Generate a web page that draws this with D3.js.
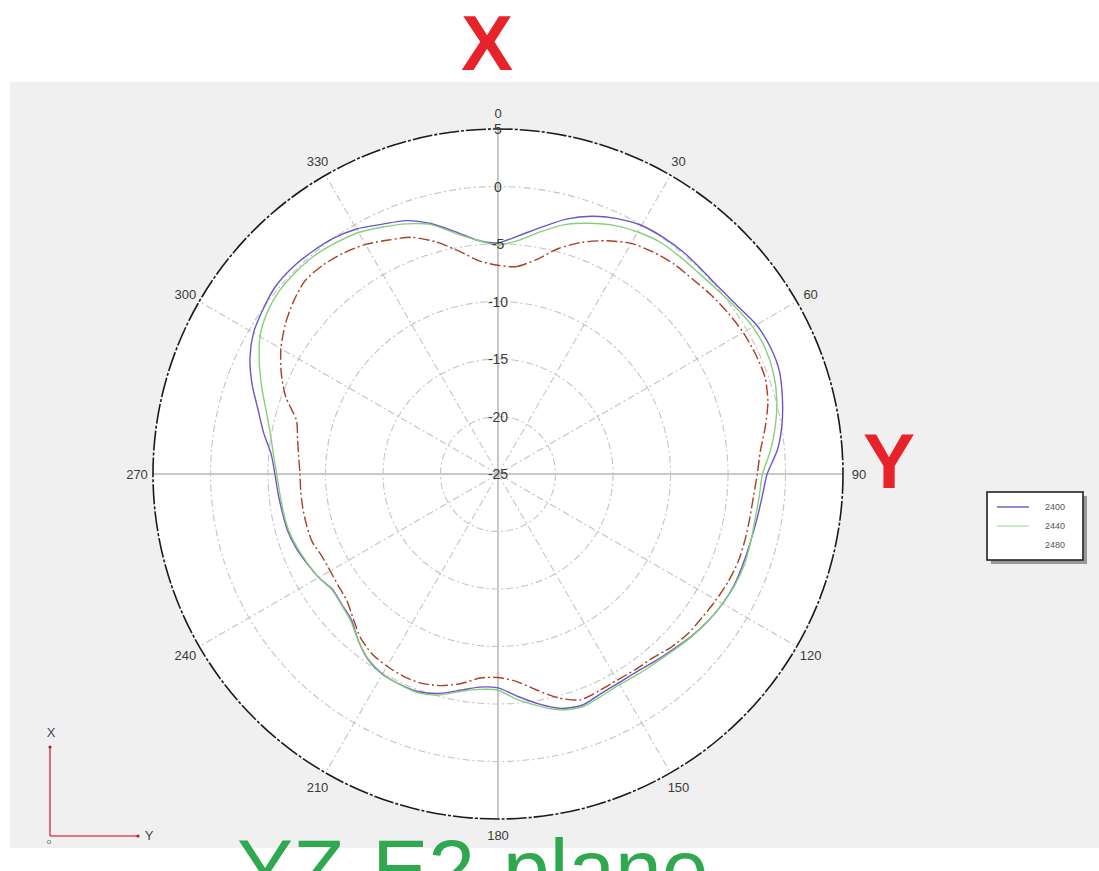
<!DOCTYPE html>
<html>
<head>
<meta charset="utf-8">
<script src="https://cdn.jsdelivr.net/npm/d3@7"></script>
<style>
html,body{margin:0;padding:0;background:#fff;}
svg{display:block;}
</style>
</head>
<body>
<svg id="chart" width="1099" height="871"></svg>
<script>
// ---------- DATA ----------
const angles = [0,5,10,15,20,25,30,35,40,45,50,55,60,65,70,75,80,85,90,95,100,105,110,115,120,125,130,135,140,145,150,155,160,165,170,175,180,185,190,195,200,205,210,215,220,225,230,235,240,245,250,255,260,265,270,275,280,285,290,295,300,305,310,315,320,325,330,335,340,345,350,355];
const series2400 = [-4.9,-4.2,-3.2,-2.05,-1.15,-0.5,-0.05,0.1,0.15,0.09,
  0.15,0.45,0.95,1.13,1.05,0.6,0.08,-0.6,-1.6,-1.95,
  -2.15,-2.27,-2.3,-2.3,-2.45,-2.7,-3.05,-3.45,-3.75,-4.0,
  -4.03,-3.9,-3.6,-3.9,-4.7,-5.6,-6.4,-6.4,-5.9,-5.25,
  -4.85,-4.82,-4.9,-5.3,-6.1,-7.0,-7.3,-7.45,-7.0,-6.65,
  -6.3,-6.05,-5.95,-5.8,-5.6,-5.2,-4.3,-3.4,-2.25,-1.2,
  -0.45,-0.05,0.3,0.34,0.2,0.0,-0.4,-1.05,-1.55,-2.45,
  -3.6,-4.6];
const series2440 = [-5.1,-4.6,-3.6,-2.55,-1.8,-1.15,-0.7,-0.4,-0.35,-0.3,
  -0.1,0.25,0.58,0.68,0.5,0.1,-0.5,-1.2,-2.0,-2.2,
  -2.3,-2.25,-2.17,-2.25,-2.45,-2.7,-3.0,-3.35,-3.6,-3.75,
  -3.85,-3.7,-3.46,-3.75,-4.5,-5.3,-6.2,-6.2,-5.8,-5.1,
  -4.75,-4.8,-4.95,-5.35,-6.1,-6.9,-7.25,-7.4,-7.0,-6.7,
  -6.4,-6.15,-6.05,-5.95,-5.75,-5.4,-4.9,-4.15,-3.15,-2.1,
  -1.1,-0.5,-0.2,-0.15,-0.2,-0.45,-0.75,-1.3,-1.85,-2.55,
  -3.75,-4.6];
const series2480 = [-6.85,-6.9,-6.1,-4.7,-3.55,-2.62,-1.85,-1.45,-1.18,-1.05,
  -0.8,-0.58,-0.38,-0.3,-0.3,-0.7,-1.4,-2.1,-2.45,-2.7,
  -2.77,-2.77,-2.77,-2.9,-3.1,-3.3,-3.42,-3.7,-4.1,-4.22,
  -4.3,-4.2,-4.1,-4.85,-5.95,-6.9,-7.3,-7.19,-6.5,-5.95,
  -5.62,-5.58,-5.7,-5.9,-6.4,-7.2,-7.85,-8.05,-8.15,-8.1,
  -7.8,-7.77,-7.77,-7.78,-7.78,-7.6,-7.3,-6.85,-5.35,-4.2,
  -3.2,-2.4,-1.75,-1.25,-1.3,-1.55,-1.95,-2.55,-3.1,-4.1,
  -5.3,-6.4];
const seriesNames = ["2400","2440","2480"];
const radialTicks = [5,0,-5,-10,-15,-20,-25];
const ringValues = [0,-5,-10,-15,-20];
const angleTicks = [0,30,60,90,120,150,180,210,240,270,300,330];

// ---------- LAYOUT ----------
const svg = d3.select("#chart");
const cx = 498, cy = 474, R = 345;

svg.append("rect").attr("x",0).attr("y",0).attr("width",1099).attr("height",871).attr("fill","#ffffff");
svg.append("rect").attr("x",10).attr("y",82).attr("width",1089).attr("height",766).attr("fill","#f0f0f0");

const r = d3.scaleLinear().domain([-25,5]).range([0,R]);
const a = d3.scaleLinear().domain([0,360]).range([0,2*Math.PI]);

const g = svg.append("g").attr("transform",`translate(${cx},${cy})`);

g.append("circle").attr("r",r(5)).attr("fill","#ffffff");

g.selectAll(".ring").data(ringValues).enter().append("circle")
  .attr("r",d=>r(d)).attr("fill","none")
  .attr("stroke","#c4c4c4").attr("stroke-width",1.1)
  .attr("stroke-dasharray","7,3,2,3");

const px = (deg,rad)=>rad*Math.sin(a(deg));
const py = (deg,rad)=>-rad*Math.cos(a(deg));
g.selectAll(".spoke").data(angleTicks).enter().append("line")
  .attr("x1",0).attr("y1",0)
  .attr("x2",d=>px(d,r(5))).attr("y2",d=>py(d,r(5)))
  .attr("stroke",d=>d%90===0?"#c8c8c8":"#c4c4c4")
  .attr("stroke-width",d=>d%90===0?2:1.1)
  .attr("stroke-dasharray",d=>d%90===0?null:"7,3,2,3");

g.append("circle").attr("r",r(5)).attr("fill","none")
  .attr("stroke","#1a1a1a").attr("stroke-width",1.6)
  .attr("stroke-dasharray","20,2,3,2");

const line = d3.lineRadial()
  .angle((d,i)=>a(angles[i]))
  .radius(d=>r(d))
  .curve(d3.curveCardinalClosed.tension(0.3));

const styles = [
  {data:series2400, color:"#6b55c9", width:1.4, dash:null},
  {data:series2440, color:"#86d07a", width:1.4, dash:null},
  {data:series2480, color:"#a8401e", width:1.4, dash:"11,3,2,3"}
];
styles.forEach(s=>{
  g.append("path").attr("d",line(s.data)).attr("fill","none")
    .attr("stroke",s.color).attr("stroke-width",s.width)
    .attr("stroke-dasharray",s.dash);
});

g.selectAll(".rlab").data(radialTicks).enter().append("text")
  .attr("x",0).attr("y",d=>-r(d)+5)
  .attr("text-anchor","middle")
  .attr("font-family","Liberation Sans, Arial, sans-serif")
  .attr("font-size",14).attr("fill","#3a3a3a")
  .text(d=>d);

g.selectAll(".alab").data(angleTicks).enter().append("text")
  .attr("x",d=>px(d,R+16))
  .attr("y",d=>py(d,R+16)+5)
  .attr("text-anchor","middle")
  .attr("font-family","Liberation Sans, Arial, sans-serif")
  .attr("font-size",13).attr("fill","#3a3a3a")
  .text(d=>d);

const lg = svg.append("g").attr("transform","translate(987,492)");
lg.append("rect").attr("x",4).attr("y",4).attr("width",96).attr("height",68).attr("fill","#9a9a9a");
lg.append("rect").attr("x",0).attr("y",0).attr("width",96).attr("height",68)
  .attr("fill","#ffffff").attr("stroke","#222").attr("stroke-width",1.6);
const legendColors = ["#6b55c9","#b8e0a8","#ffffff"];
seriesNames.forEach((n,i)=>{
  const y = 15 + i*19;
  lg.append("line").attr("x1",10).attr("x2",42).attr("y1",y).attr("y2",y)
    .attr("stroke",legendColors[i]).attr("stroke-width",1.4);
  lg.append("text").attr("x",58).attr("y",y+3)
    .attr("font-family","Liberation Sans, Arial, sans-serif")
    .attr("font-size",9).attr("fill","#555").text(n);
});

svg.append("text").attr("x",487).attr("y",70).attr("text-anchor","middle")
  .attr("font-family","Liberation Sans, Arial, sans-serif").attr("font-weight","bold")
  .attr("font-size",78).attr("fill","#e8222a").text("X");
svg.append("text").attr("x",889).attr("y",488).attr("text-anchor","middle")
  .attr("font-family","Liberation Sans, Arial, sans-serif").attr("font-weight","bold")
  .attr("font-size",78).attr("fill","#e8222a").text("Y");

const ind = svg.append("g");
ind.append("line").attr("x1",50).attr("y1",747).attr("x2",50).attr("y2",836).attr("stroke","#e0485a").attr("stroke-width",1.6);
ind.append("line").attr("x1",50).attr("y1",836).attr("x2",138).attr("y2",836).attr("stroke","#e0485a").attr("stroke-width",1.6);
ind.append("circle").attr("cx",50).attr("cy",747).attr("r",1.6).attr("fill","#b02030");
ind.append("circle").attr("cx",138).attr("cy",836).attr("r",1.6).attr("fill","#b02030");
ind.append("text").attr("x",51).attr("y",737).attr("text-anchor","middle")
  .attr("font-family","Liberation Sans, Arial, sans-serif").attr("font-size",13).attr("fill","#445").text("X");
ind.append("text").attr("x",149).attr("y",840).attr("text-anchor","middle")
  .attr("font-family","Liberation Sans, Arial, sans-serif").attr("font-size",13).attr("fill","#445").text("Y");
ind.append("text").attr("x",49).attr("y",844).attr("text-anchor","middle")
  .attr("font-family","Liberation Sans, Arial, sans-serif").attr("font-size",8).attr("fill","#667").text("o");

svg.append("text").attr("x",237).attr("y",898)
  .attr("font-family","Liberation Sans, Arial, sans-serif")
  .attr("font-size",84).attr("fill","#2fa84f").text("YZ-E2-plane");
</script>
</body>
</html>
